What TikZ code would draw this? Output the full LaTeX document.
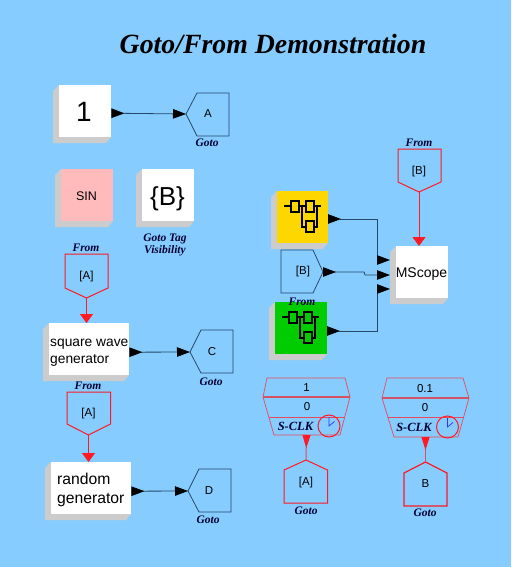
\documentclass[tikz,border=0pt]{standalone}
\usepackage{fontspec}
\setmainfont{Liberation Sans}
\newfontfamily\tms{Liberation Serif}
\usetikzlibrary{arrows.meta}
\definecolor{bgc}{RGB}{135,204,255}
\definecolor{shc}{RGB}{204,204,204}
\definecolor{darkl}{RGB}{35,70,105}
\definecolor{redl}{RGB}{255,25,35}
\definecolor{clockl}{RGB}{232,72,95}
\definecolor{pinkf}{RGB}{255,187,187}
\definecolor{yellowf}{RGB}{255,215,0}
\definecolor{greenf}{RGB}{0,204,0}
\tikzset{
  x=1pt,y=-1pt,
  blockbox/.style={inner sep=0pt,minimum width=#1,minimum height=52pt,anchor=north west},
  blockbox/.default=52pt,
  blocktext/.style={inner sep=0pt,align=left,anchor=west},
  basetext/.style={inner sep=0pt,anchor=base},
  gotoshape/.style={draw=darkl,line width=.75pt},
  redshape/.style={draw=redl,line width=1pt},
  clockshape/.style={draw=clockl,line width=.7pt},
  conn/.style={draw=darkl,line width=.8pt,{Triangle[reversed,length=13pt,width=9.5pt,black]}-{Triangle[length=13pt,width=9.5pt,black]}},
  redconn/.style={draw=redl,line width=1pt,-{Triangle[length=9pt,width=13pt,redl]}},
  clockconn/.style={draw=clockl,line width=1pt,{Triangle[reversed,length=13pt,width=8pt,redl]}-},
  caplabel/.style={font=\tms\bfseries\itshape\fontsize{11.5}{11.5}\selectfont,text=black!80!blue,inner sep=0pt,align=center},
  clocklabel/.style={font=\tms\bfseries\itshape\fontsize{12.5}{13}\selectfont,text=black!80!blue,inner sep=0pt},
  lab/.style={font=\fontsize{11.5}{12}\selectfont,inner sep=0pt},
}
\newcommand{\Blk}[5]{%
  \begin{scope}[shift={(#2,#3)}]
    \fill[shc] (0,0)--(-6,6)--(-6,58)--(#4-5,58)--(#4,52)--cycle;
    \node[blockbox=#4pt,fill=#5] (#1) at (0,0) {};
  \end{scope}}
\newcommand{\Ladder}[2]{%
  \begin{scope}[shift={(#1,#2)},line width=1.1pt,draw=black]
    \draw (7,15)--(14,15) (22,15)--(29,15) (37,15)--(44,15);
    \draw (25,15)--(25,36)--(29,36) (37,36)--(40,36)--(40,15);
    \draw (14,10) rectangle (22,21);
    \draw (29,10) rectangle (37,21);
    \draw (29,30) rectangle (37,41);
  \end{scope}}
\begin{document}
\begin{tikzpicture}
\useasboundingbox (0,0) rectangle (511,567);
\fill[bgc] (0,0) rectangle (511,567);
\node[inner sep=0pt,font=\tms\bfseries\itshape\fontsize{27.8}{28}\selectfont] (title) at (273,44) {Goto/From Demonstration};

% blocks
\Blk{one}{59}{85}{52}{white}
\Blk{sin}{61}{169}{52}{pinkf}
\Blk{vis}{142}{169}{52}{white}
\Blk{sq}{49}{323}{80}{white}
\Blk{rnd}{51}{462}{80}{white}
\Blk{ylw}{277}{191}{51}{yellowf}
\Blk{grn}{275}{302}{52}{greenf}
\Blk{msc}{396}{246}{52}{white}
\node[basetext,font=\fontsize{28}{28}\selectfont] (onet) at (84,121.7) {1};
\node[basetext,font=\fontsize{12.5}{13}\selectfont] (sint) at (86.5,200) {SIN};
\node[basetext,font=\fontsize{26}{26}\selectfont] (vist) at (167.5,205) {\{B\}};
\node[basetext,font=\fontsize{14}{14}\selectfont] (msct) at (421.5,277.7) {MScope};
\node[blocktext,font=\fontsize{13.8}{17}\selectfont] (sqt) at (50,353) {square wave\\generator};
\node[blocktext,font=\fontsize{15.7}{19}\selectfont] (rndt) at (57,490) {random\\generator};
\Ladder{277}{191}
\Ladder{275}{302}

% goto blocks (tip left)
\draw[gotoshape] (186,114)--(197,93)--(229,93)--(229,136)--(197,136)--cycle;
\coordinate (gAin) at (186,114);
\node[lab] (gA) at (208,114) {A};
\node[caplabel] (gAc) at (207,143) {Goto};
\draw[gotoshape] (190,352)--(201,330)--(233,330)--(233,373)--(201,373)--cycle;
\coordinate (gCin) at (190,352);
\node[lab] (gC) at (212,352) {C};
\node[caplabel] (gCc) at (211,382) {Goto};
\draw[gotoshape] (188,491)--(199,469)--(231,469)--(231,512)--(199,512)--cycle;
\coordinate (gDin) at (188,491);
\node[lab] (gD) at (209,491) {D};
\node[caplabel] (gDc) at (208,520) {Goto};

% from block [B], tip right
\draw[gotoshape] (281,250)--(313,250)--(323,272)--(313,293)--(281,293)--cycle;
\coordinate (fBout) at (323,272);
\node[lab] (fB) at (303,272) {[B]};
\node[caplabel] (fBc) at (302,302) {From};

% red from blocks, tip down
\draw[redshape] (65,254)--(108,254)--(108,288)--(86.5,298)--(65,288)--cycle;
\coordinate (fA1out) at (86.5,298);
\node[lab] (fA1) at (86.5,277) {[A]};
\node[caplabel] (fA1c) at (86,248) {From};
\draw[redshape] (67,392)--(110.5,392)--(110.5,424)--(88.5,435)--(67,424)--cycle;
\coordinate (fA2out) at (88.5,435);
\node[lab] (fA2) at (88.5,414) {[A]};
\node[caplabel] (fA2c) at (88,386) {From};
\draw[redshape] (398,149)--(441,149)--(441,182)--(419,192)--(398,182)--cycle;
\coordinate (fB2out) at (419,192);
\node[lab] (fB2) at (419,172) {[B]};
\node[caplabel] (fB2c) at (419,143) {From};
\coordinate (sqin) at (86.5,323);
\coordinate (rndin) at (88.5,462);
\coordinate (mscin) at (419,246);

% clocks
\draw[clockshape] (267,378)--(345,378)--(350,397)--(340,435)--(274,435)--(263,397)--cycle;
\draw[clockl!80!gray,line width=1.2pt] (263,397)--(350,397);
\draw[clockshape] (269,417)--(345,417);
\draw[redl,line width=1pt] (329,426) circle (11);
\draw[blue!80!white,line width=.7pt] (329,417)--(329,426)--(334.5,421.5);
\node[lab] (c1a) at (306.5,388) {1};
\node[lab] (c1b) at (307,407) {0};
\node[clocklabel] (c1c) at (295.5,426.5) {S-CLK};
\coordinate (c1out) at (306.5,435);

\draw[clockshape] (387,378)--(463,378)--(469,398)--(458,437)--(394,437)--(382,398)--cycle;
\draw[clockl!80!gray,line width=1.2pt] (382,398)--(469,398);
\draw[clockshape] (388,417)--(463,417);
\draw[redl,line width=1pt] (447.5,427) circle (11);
\draw[blue!80!white,line width=.7pt] (447.5,418)--(447.5,427)--(453,422.5);
\node[lab] (c2a) at (425,389) {0.1};
\node[lab] (c2b) at (425,408) {0};
\node[clocklabel] (c2c) at (414,427.5) {S-CLK};
\coordinate (c2out) at (425.5,437);

% red goto, tip up
\draw[redshape] (306,460)--(327.5,470)--(327.5,503)--(284,503)--(284,470)--cycle;
\coordinate (gA2in) at (306,460);
\node[lab] (gA2) at (306,483) {[A]};
\node[caplabel] (gA2c) at (306,511) {Goto};
\draw[redshape,line width=1.2pt] (425.5,462)--(447,473)--(447,506)--(404,506)--(404,473)--cycle;
\coordinate (gB2in) at (425.5,462);
\node[lab] (gB2) at (425.5,484) {B};
\node[caplabel] (gB2c) at (425,513) {Goto};

\node[caplabel] (visc) at (165,245) {Goto Tag\\[1pt]Visibility};

% connectors
\draw[conn] ([yshift=-2pt]one.east) -- (gAin);
\draw[conn] ([yshift=-3pt]sq.east) -- (gCin);
\draw[conn] ([yshift=-3pt]rnd.east) -- (gDin);
\draw[redconn] (fA1out) -- (sqin);
\draw[redconn] (fA2out) -- (rndin);
\draw[redconn] (fB2out) -- (mscin);
\draw[clockconn] (c1out) -- (gA2in);
\draw[clockconn] (c2out) -- (gB2in);

\coordinate (mi1) at (390,260);
\coordinate (mi2) at (390,275);
\coordinate (mi3) at (390,289);
\coordinate (yo) at (328,219);
\coordinate (go) at (327,331);
\draw[conn] (yo) -- (377,219) -- (377,260) -- (mi1);
\draw[conn] (fBout) -- (364,272) -- (365,275) -- (mi2);
\draw[conn] (go) -- (377,331) -- (377,289) -- (mi3);
\end{tikzpicture}
\end{document}
